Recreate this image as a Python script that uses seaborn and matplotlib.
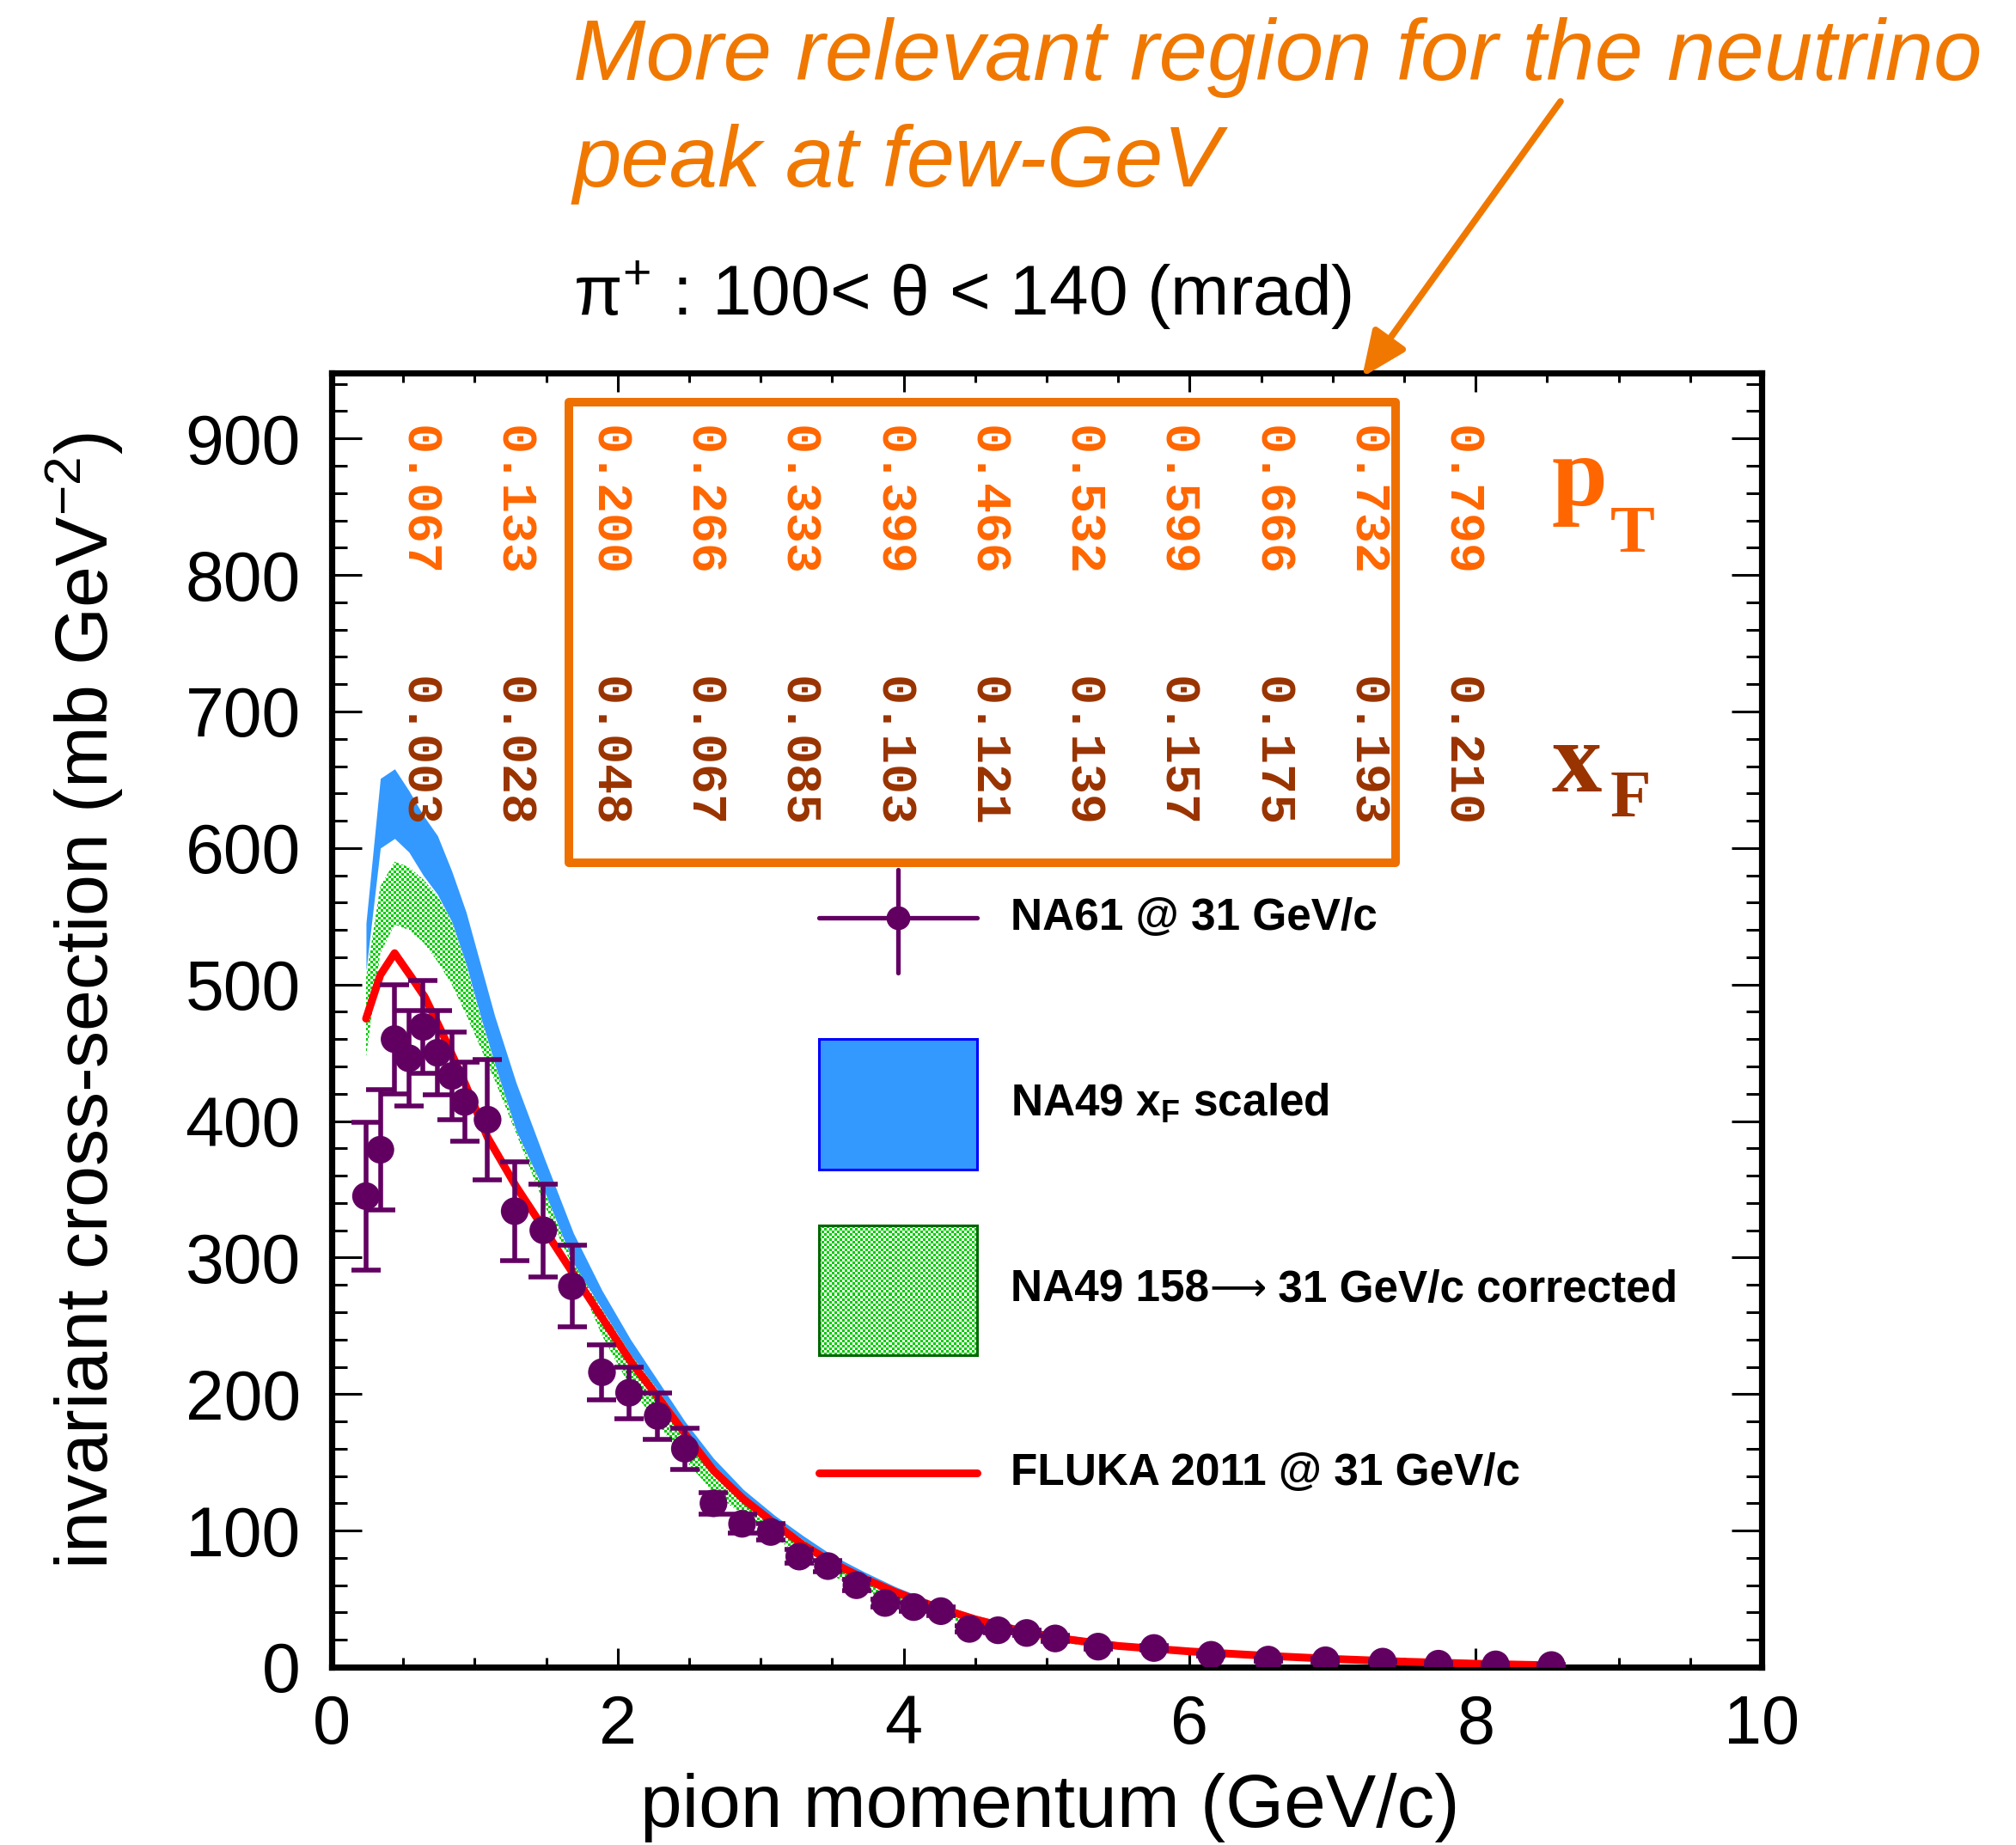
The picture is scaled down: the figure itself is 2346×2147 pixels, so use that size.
import numpy as np
import matplotlib
matplotlib.use("Agg")
import matplotlib.pyplot as plt
import seaborn as sns
import pandas as pd
from matplotlib.ticker import MultipleLocator
from matplotlib.patches import Rectangle, FancyArrowPatch

# ---------------- data ----------------
# NA61 @ 31 GeV/c, pi+ 100 < theta < 140 mrad
na61_p = [0.24, 0.34, 0.44, 0.54, 0.64, 0.74, 0.84, 0.93, 1.09, 1.28, 1.48, 1.68,
          1.89, 2.08, 2.28, 2.47, 2.67, 2.87, 3.07, 3.27, 3.47, 3.67, 3.87, 4.07,
          4.26, 4.46, 4.66, 4.86, 5.06, 5.36, 5.75, 6.15, 6.55, 6.95, 7.35, 7.74,
          8.14, 8.53]
na61_xs = [345, 379, 460, 446, 469, 450, 433, 414, 401, 334, 320, 279,
           216, 201, 184, 160, 120, 105, 99, 81, 74, 60, 47, 44,
           41, 28, 27, 25, 21, 15, 14, 9, 5.5, 5, 4, 2.5,
           2, 1.5]
na61_err = [54, 44, 40, 35, 34, 31, 32, 29, 44, 36, 34, 30,
            20, 19, 17, 15, 8, 7, 6, 5, 4, 4, 3, 3,
            3, 2, 2, 2, 2, 1.5, 1.5, 1, 1, 1, 0.5, 0.5,
            0.5, 0.5]

# FLUKA 2011 @ 31 GeV/c
fluka_p = [0.24, 0.34, 0.44, 0.56, 0.65, 0.78, 0.93, 1.09, 1.29, 1.46, 1.69, 1.89,
           2.09, 2.28, 2.47, 2.67, 2.88, 3.10, 3.29, 3.51, 3.72, 3.94, 4.2, 4.5,
           4.8, 5.1, 5.5, 6.0, 6.5, 7.0, 7.5, 8.0, 8.44]
fluka_xs = [475, 507, 523, 505, 491, 463, 428, 388, 352, 325, 288, 256,
            224, 198, 171, 144, 123, 105, 90, 76, 65, 55, 45, 35,
            27, 21, 15.5, 11.5, 8.5, 6, 4, 2.5, 1.5]

# NA49 bands (lower / upper edges)
band_p = [0.24, 0.34, 0.44, 0.54, 0.64, 0.74, 0.84, 0.94, 1.04, 1.14, 1.29, 1.49,
          1.69, 1.89, 2.09, 2.28, 2.47, 2.67, 2.88, 3.1, 3.3, 3.5, 3.72, 3.94,
          4.2, 4.5, 4.8, 5.1, 5.5, 6.0, 6.5, 7.0, 7.5, 8.0, 8.5]
scaled_hi = [545, 651, 658, 642, 624, 609, 583, 553, 515, 477, 428, 372,
             318, 276, 240, 210, 180, 153, 130, 111, 96, 82, 70, 59,
             48, 38, 30, 24, 18, 13, 9, 6.5, 4.5, 3, 2]
scaled_lo = [510, 600, 607, 597, 580, 566, 546, 515, 477, 442, 393, 348,
             296, 262, 229, 203, 175, 148, 126, 108, 93, 79, 67, 57,
             46.5, 36, 28.5, 22.5, 16.5, 12, 8.5, 6, 4, 2.8, 1.8]
corr_hi = [505, 572, 590, 586, 577, 565, 546, 515, 477, 442, 393, 348,
           296, 262, 229, 203, 175, 148, 126, 108, 93, 79, 67, 57,
           46.5, 36, 28.5, 22.5, 16.5, 12, 8.5, 6, 4, 2.8, 1.8]
corr_lo = [447, 523, 544, 540, 531, 517, 500, 478, 454, 430, 391, 338,
           292, 243, 205, 178, 152, 128, 111, 95, 80, 67, 56, 47,
           39, 30, 23, 18, 13, 9.5, 6.5, 4.5, 3, 2, 1.2]

# kinematic labels along the top of the frame
kin_p = [0.60, 1.26, 1.93, 2.59, 3.25, 3.92, 4.58, 5.24, 5.90, 6.57, 7.23, 7.89]
pt_labels = ["0.067", "0.133", "0.200", "0.266", "0.333", "0.399",
             "0.466", "0.532", "0.599", "0.666", "0.732", "0.799"]
xf_labels = ["0.003", "0.028", "0.048", "0.067", "0.085", "0.103",
             "0.121", "0.139", "0.157", "0.175", "0.193", "0.210"]

# ---------------- style ----------------
sns.set_style("ticks")
plt.rcParams["font.family"] = ["Liberation Sans", "DejaVu Sans"]
plt.rcParams["mathtext.fontset"] = "custom"
plt.rcParams["mathtext.rm"] = "Liberation Sans"
plt.rcParams["mathtext.it"] = "Liberation Sans:italic"
plt.rcParams["mathtext.bf"] = "Liberation Sans:bold"
for key in ("text.color", "axes.labelcolor", "xtick.color", "ytick.color",
            "axes.edgecolor"):
    plt.rcParams[key] = "black"

PURPLE = "#620062"
BLUE = "#3399FF"
ORANGE = "#F07800"
PT_COL = "#FF6600"
XF_COL = "#993300"
RED = "#FF0000"

W_PX, H_PX = 2346, 2147
fig = plt.figure(figsize=(W_PX / 100, H_PX / 100), dpi=100)
ax_rect = [386 / W_PX, 1 - 1940 / H_PX, 1664 / W_PX, 1506 / H_PX]
ax = fig.add_axes(ax_rect)

XMAX, YMAX = 10.0, 948.0

# NA49 x_F scaled band
ax.fill_between(band_p, scaled_lo, scaled_hi, color=BLUE, lw=0, zorder=1)

# NA49 corrected band: dotted green pattern clipped to the band outline
ih, iw = int(round(ax_rect[3] * H_PX)), int(round(ax_rect[2] * W_PX))
ii, jj = np.indices((ih, iw))
dots = ((ii // 3 + jj // 3) % 2 == 0)
pattern = np.zeros((ih, iw, 4), dtype=np.uint8)
pattern[dots] = (0, 204, 0, 255)

outline = ax.fill_between(band_p, corr_lo, corr_hi, facecolor="none", lw=0, zorder=2)
im = ax.imshow(pattern, extent=(0, XMAX, 0, YMAX), origin="lower",
               interpolation="nearest", aspect="auto", zorder=2)
im.set_clip_path(outline.get_paths()[0], ax.transData)

# FLUKA line
sns.lineplot(x=fluka_p, y=fluka_xs, color=RED, lw=6.5, sort=False,
             estimator=None, ax=ax, zorder=3)

# NA61 points
ax.errorbar(na61_p, na61_xs, yerr=na61_err, fmt="none", ecolor=PURPLE,
            elinewidth=4.0, capsize=12, capthick=4.0, zorder=4)
na61 = pd.DataFrame({"p": na61_p, "xs": na61_xs})
sns.scatterplot(data=na61, x="p", y="xs", s=540, color=PURPLE,
                edgecolor="none", ax=ax, zorder=5)

# ---------------- axes ----------------
ax.set_xlim(0, XMAX)
ax.set_ylim(0, YMAX)
ax.xaxis.set_major_locator(MultipleLocator(2))
ax.xaxis.set_minor_locator(MultipleLocator(0.5))
ax.yaxis.set_major_locator(MultipleLocator(100))
ax.yaxis.set_minor_locator(MultipleLocator(20))
for s in ax.spines.values():
    s.set_linewidth(5.2)
    s.set_color("black")
ax.tick_params(which="both", direction="in", top=True, right=True, width=2.2,
               color="black")
ax.tick_params(axis="x", which="major", length=16, pad=22, labelsize=57)
ax.tick_params(axis="x", which="minor", length=8)
ax.tick_params(axis="y", which="major", length=25, pad=26, labelsize=58)
ax.tick_params(axis="y", which="minor", length=13)

ax.set_xlabel("pion momentum (GeV/c)", fontsize=63)
ax.set_ylabel(r"invariant cross-section (mb GeV$^{-2}$)", fontsize=62)
ax.xaxis.set_label_coords(0.5024, -0.082)
ax.yaxis.set_label_coords(-0.144, 0.515)

# ---------------- kinematic labels ----------------
for p, t in zip(kin_p, pt_labels):
    ax.text(p, 0.9013, t, transform=ax.get_xaxis_transform(), rotation=-90,
            ha="center", va="center", family="Liberation Mono", weight="bold",
            fontsize=42, color=PT_COL, zorder=6)
for p, t in zip(kin_p, xf_labels):
    ax.text(p, 0.7078, t, transform=ax.get_xaxis_transform(), rotation=-90,
            ha="center", va="center", family="Liberation Mono", weight="bold",
            fontsize=42, color=XF_COL, zorder=6)

serif_bold = dict(family="Liberation Serif", weight="bold", transform=ax.transAxes,
                  va="baseline", ha="left", zorder=6)
ax.text(0.853, 0.8977, "p", fontsize=84, color=PT_COL, **serif_bold)
ax.text(0.8939, 0.8619, "T", fontsize=56, color=PT_COL, **serif_bold)
ax.text(0.853, 0.6766, "x", fontsize=84, color=XF_COL, **serif_bold)
ax.text(0.8939, 0.6574, "F", fontsize=56, color=XF_COL, **serif_bold)

# highlighted region box
ax.add_patch(Rectangle((0.1659, 0.6215), 0.7437 - 0.1659, 0.9774 - 0.6215,
                       transform=ax.transAxes, fill=False, edgecolor="#EE7000",
                       lw=7.2, joinstyle="round", zorder=7, clip_on=False))

# ---------------- legend ----------------
lx0, lx1 = 0.3407, 0.4513
lxc = 0.5 * (lx0 + lx1)
tx = 0.4748
LEG_FS = 37
leg_font = dict(transform=ax.transAxes, fontsize=LEG_FS, weight="bold",
                va="center", ha="left", zorder=8)

# NA61 entry
ax.plot([lx0, lx1], [0.579, 0.579], transform=ax.transAxes, color=PURPLE, lw=3.8,
        zorder=8, clip_on=False)
ax.plot([lxc, lxc], [0.5365, 0.6165], transform=ax.transAxes, color=PURPLE, lw=3.8,
        zorder=8, clip_on=False)
ax.plot([lxc], [0.579], transform=ax.transAxes, marker="o", ms=20, color=PURPLE,
        mec="none", zorder=9, clip_on=False)
ax.text(tx, 0.579, "NA61 @ 31 GeV/c", **leg_font)

# NA49 x_F scaled entry
ax.add_patch(Rectangle((lx0, 0.3845), lx1 - lx0, 0.4854 - 0.3845,
                       transform=ax.transAxes, facecolor=BLUE, edgecolor="#0000FF",
                       lw=2.2, zorder=8))
ax.text(tx, 0.435, r"NA49 $\mathbf{x}_\mathbf{F}$ scaled", **leg_font)

# NA49 corrected entry
green_box = Rectangle((lx0, 0.241), lx1 - lx0, 0.3413 - 0.241,
                      transform=ax.transAxes, facecolor="none", edgecolor="#006600",
                      lw=2.2, zorder=9)
ax.add_patch(green_box)
im2 = ax.imshow(pattern, extent=(0, XMAX, 0, YMAX), origin="lower",
                interpolation="nearest", aspect="auto", zorder=8)
im2.set_clip_path(green_box)
t_a = ax.text(tx, 0.2915, "NA49 158", **leg_font)
t_b = ax.annotate("\u27F6", xy=(1, 0.5), xycoords=t_a, va="center", ha="left",
                  family="DejaVu Sans", fontsize=LEG_FS * 0.9, zorder=8)
ax.annotate(" 31 GeV/c corrected", xy=(1, 0.5), xycoords=t_b, va="center",
            ha="left", fontsize=LEG_FS, weight="bold", zorder=8)

# FLUKA entry
ax.plot([lx0, lx1], [0.150, 0.150], transform=ax.transAxes, color=RED,
        lw=6.5, zorder=8)
ax.text(tx, 0.150, "FLUKA 2011 @ 31 GeV/c", **leg_font)

ax.set_xlim(0, XMAX)
ax.set_ylim(0, YMAX)

# ---------------- title and annotation ----------------
fig.text(667 / W_PX, 1 - 367 / H_PX,
         r"$\mathrm{\pi}^{+}$ : 100< $\mathrm{\theta}$ < 140 (mrad)",
         fontsize=59, ha="left", va="baseline", color="black")

fig.text(667 / W_PX, 1 - 93 / H_PX, "More relevant region for the neutrino",
         fontsize=73, style="italic", color=ORANGE, ha="left", va="baseline")
fig.text(667 / W_PX, 1 - 217 / H_PX, "peak at few-GeV",
         fontsize=73, style="italic", color=ORANGE, ha="left", va="baseline")

fig.add_artist(FancyArrowPatch(
    (1816 / W_PX, 1 - 118 / H_PX), (1585 / W_PX, 1 - 439 / H_PX),
    transform=fig.transFigure, arrowstyle="-|>,head_length=1.6,head_width=0.7",
    mutation_scale=20, lw=5.5, color=ORANGE, shrinkA=0, shrinkB=0))

fig.savefig("out.png", dpi=100)
